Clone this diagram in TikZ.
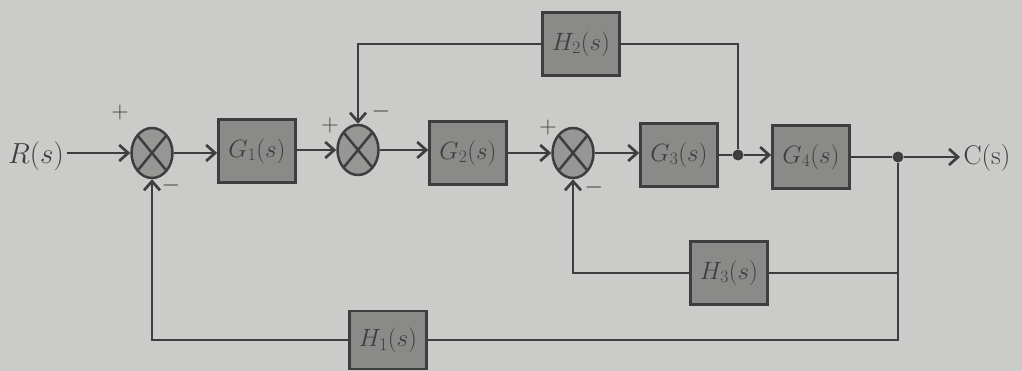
\documentclass[tikz,border=0pt]{standalone}
\usepackage{fix-cm}
\usetikzlibrary{arrows.meta,shapes.geometric}
\definecolor{bg}{RGB}{203,203,201}
\definecolor{boxfill}{RGB}{138,138,136}
\definecolor{sumfill}{RGB}{150,150,148}
\definecolor{ink}{RGB}{62,62,62}
\begin{document}
\begin{tikzpicture}[x=1pt,y=-1pt,
  every node/.style={font=\fontsize{29}{34}\selectfont, text=ink},
  blk/.style={draw=ink, line width=2.6pt, fill=boxfill, minimum width=77pt, minimum height=63pt, inner sep=0pt,
     font=\fontsize{25}{30}\selectfont},
  sumj/.style={ellipse, draw=ink, line width=2.5pt, fill=sumfill, minimum width=41pt, minimum height=50pt, inner sep=0pt,
     path picture={\draw[ink, line width=2.5pt] (path picture bounding box.south west) -- (path picture bounding box.north east)
        (path picture bounding box.north west) -- (path picture bounding box.south east);}},
  dotj/.style={circle, fill=ink, minimum size=11pt, inner sep=0pt},
  wire/.style={draw=ink, line width=2.7pt},
  arr/.style={wire, -{Straight Barb[length=9pt,width=16pt,line width=2.7pt]}},
  sgn/.style={font=\fontsize{24}{28}\selectfont}
]
\fill[bg] (0,0) rectangle (1022,371);
\useasboundingbox (0,0) rectangle (1022,371);

\node (R) at (36,156) {$R(s)$};
\node[sumj] (s1) at (152,153) {};
\node[blk] (G1) at (257,151) {$G_1(s)$};
\node[sumj] (s2) at (358,150) {};
\node[blk] (G2) at (468,153) {$G_2(s)$};
\node[sumj] (s3) at (573,153) {};
\node[blk] (G3) at (679,155) {$G_3(s)$};
\node[blk] (H2) at (581,44) {$H_2(s)$};
\node[dotj] (j1) at (738,155) {};
\node[blk] (G4) at (811,157) {$G_4(s)$};
\node[dotj] (j2) at (898,157) {};
\node[font=\fontsize{27}{32}\selectfont] (C) at (987,158) {C(s)};
\node[blk] (H3) at (729,273) {$H_3(s)$};
\node[blk, minimum height=58pt] (H1) at (388,340) {$H_1(s)$};

\node[sgn] (p1) at (120,113) {$+$};
\node[sgn] (m1) at (171,186) {$-$};
\node[sgn] (p2) at (330,126) {$+$};
\node[sgn] (m2) at (381,112) {$-$};
\node[sgn] (p3) at (548,128) {$+$};
\node[sgn] (m3) at (594,188) {$-$};

\draw[arr] (R.east |- s1.west) -- (s1.west);
\draw[arr] (s1.east) -- (G1.west |- s1.east);
\draw[arr] (G1.east |- s2.west) -- (s2.west);
\draw[arr] (s2.east) -- (G2.west |- s2.east);
\draw[arr] (G2.east |- s3.west) -- (s3.west);
\draw[arr] (s3.east) -- (G3.west |- s3.east);
\draw[wire] (G3.east |- j1) -- (j1);
\draw[arr] (j1) -- (G4.west |- j1);
\draw[wire] (G4.east |- j2) -- (j2);
\draw[arr] (j2) -- (C.west |- j2);
\draw[wire] (j1) |- (H2.east);
\draw[arr] (H2.west) -| (s2.north);
\draw[wire] (j2) |- (H3.east);
\draw[arr] (H3.west) -| (s3.south);
\draw[wire] (j2) |- (H1.east);
\draw[arr] (H1.west) -| (s1.south);
\end{tikzpicture}
\end{document}
